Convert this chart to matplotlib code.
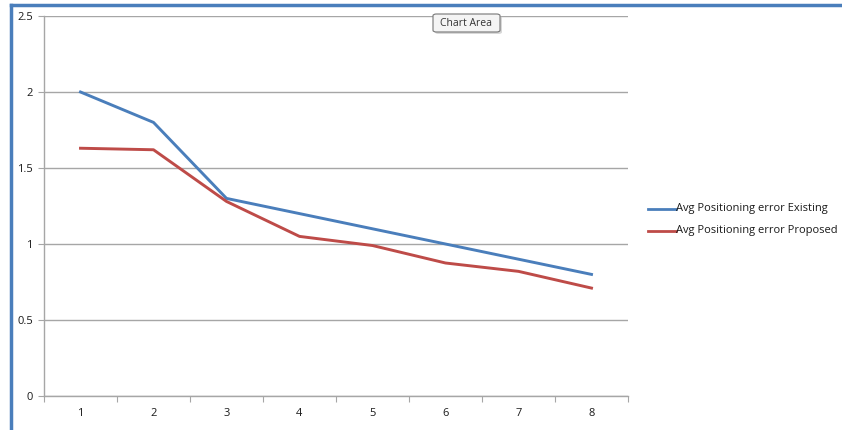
import matplotlib
matplotlib.use("Agg")
import matplotlib.pyplot as plt
from matplotlib.lines import Line2D
from matplotlib.patches import FancyBboxPatch

plt.rcParams['font.family'] = ['Open Sans', 'DejaVu Sans']

categories = [1, 2, 3, 4, 5, 6, 7, 8]
existing = [2.0, 1.8, 1.3, 1.2, 1.1, 1.0, 0.9, 0.8]
proposed = [1.63, 1.62, 1.28, 1.05, 0.99, 0.875, 0.82, 0.71]
y_ticks = [0, 0.5, 1, 1.5, 2, 2.5]
y_labels = ["0", "0.5", "1", "1.5", "2", "2.5"]
series_names = ["Avg Positioning error Existing", "Avg Positioning error Proposed"]

W, H = 842, 430
fig = plt.figure(figsize=(W / 100, H / 100), dpi=100)
fig.patch.set_facecolor("white")

# plot area in pixel coordinates
left, right, top, bottom = 44, 628, 16, 396
ax = fig.add_axes([left / W, 1 - bottom / H, (right - left) / W, (bottom - top) / H])

blue = "#4a7ebb"
red = "#be4b48"
grid = "#a6a6a6"

x = [c - 0.5 for c in categories]
ax.plot(x, existing, color=blue, lw=2.1, solid_joinstyle="round")
ax.plot(x, proposed, color=red, lw=2.1, solid_joinstyle="round")

ax.set_xlim(0, len(categories))
ax.set_ylim(0, 2.5)
ax.set_yticks(y_ticks)
ax.set_yticklabels(y_labels)
ax.set_xticks(range(0, len(categories) + 1))
ax.set_xticklabels([])
ax.set_xticks(x, minor=True)
ax.set_xticklabels([str(c) for c in categories], minor=True)
ax.tick_params(axis="x", which="minor", length=0, pad=9, labelsize=8, labelcolor="#1a1a1a")
ax.tick_params(axis="x", which="major", length=4, color=grid, direction="out")
ax.tick_params(axis="y", length=4, color=grid, direction="out", labelsize=8, pad=4,
               labelcolor="#1a1a1a")
ax.yaxis.grid(True, color=grid, lw=1)
ax.set_axisbelow(True)
for s in ["top", "right"]:
    ax.spines[s].set_visible(False)
for s in ["left", "bottom"]:
    ax.spines[s].set_color(grid)
    ax.spines[s].set_linewidth(1)

# chart area border (left and top)
fig.add_artist(Line2D([11 / W, 11 / W], [0, 1 - 5 / H], color=blue, lw=2.5))
fig.add_artist(Line2D([11 / W, 1], [1 - 5 / H, 1 - 5 / H], color=blue, lw=2.5))

# legend
for i, (name, col) in enumerate(zip(series_names, [blue, red])):
    yy = 1 - (209 + 22 * i) / H
    fig.add_artist(Line2D([648 / W, 676 / W], [yy, yy], color=col, lw=2))
    fig.text(676 / W, yy, name, fontsize=8, va="center", ha="left", color="#1a1a1a")

# hover tooltip with a soft drop shadow
shadow = FancyBboxPatch((435 / W, 1 - 34 / H), 67 / W, 18 / H,
                        boxstyle="round,pad=0,rounding_size=0.004",
                        transform=fig.transFigure, facecolor="#c8c8c8",
                        edgecolor="none", alpha=0.7)
fig.add_artist(shadow)
tip = FancyBboxPatch((433 / W, 1 - 32 / H), 67 / W, 18 / H,
                     boxstyle="round,pad=0,rounding_size=0.004",
                     transform=fig.transFigure, facecolor="#f4f4f4",
                     edgecolor="#767676", lw=0.8)
fig.add_artist(tip)
fig.text(466.5 / W, 1 - 23 / H, "Chart Area", fontsize=7.5, ha="center", va="center", color="#333333")

fig.savefig("out.png", dpi=100)
